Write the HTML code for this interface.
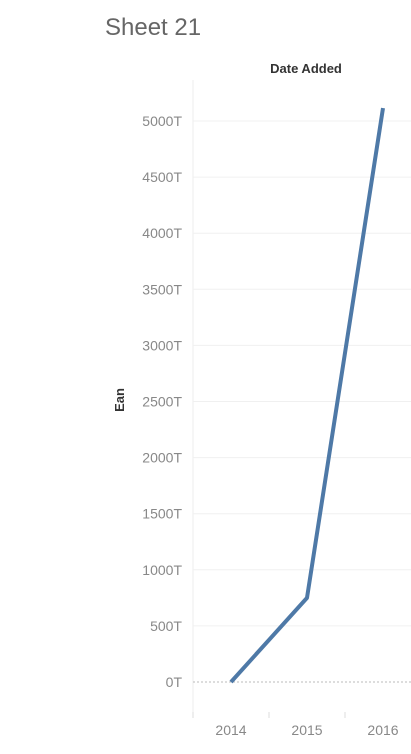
<!DOCTYPE html>
<html><head><meta charset="utf-8"><style>
html,body{margin:0;padding:0;background:#fff;width:411px;height:754px;overflow:hidden;font-family:"Liberation Sans",sans-serif}
</style></head><body>
<svg width="411" height="754" xmlns="http://www.w3.org/2000/svg">
<text x="105" y="35" font-size="24" fill="#666">Sheet 21</text>
<text x="306" y="73" font-size="13" font-weight="bold" fill="#333" text-anchor="middle">Date Added</text>
<text transform="translate(124,400) rotate(-90)" font-size="13" font-weight="bold" fill="#333" text-anchor="middle">Ean</text>
<g id="grid"></g><g id="yt"></g><g id="xt"></g><g id="ln"></g>
</svg>
<script>
const categories=["2014","2015","2016"];
const values=[0,750,5115];
const yTicks=[0,500,1000,1500,2000,2500,3000,3500,4000,4500,5000];
const yLabels=["0T","500T","1000T","1500T","2000T","2500T","3000T","3500T","4000T","4500T","5000T"];
const NS="http://www.w3.org/2000/svg";
const y=v=>682-v*(561/5000);
const x=i=>231+i*76;
function mk(t,a,p){const e=document.createElementNS(NS,t);for(const k in a)e.setAttribute(k,a[k]);p.appendChild(e);return e;}
const g=document.getElementById('grid'),yt=document.getElementById('yt'),xt=document.getElementById('xt'),ln=document.getElementById('ln');
const ax=mk('line',{x1:193,y1:80,x2:193,y2:718,stroke:'#eee'},g);


yTicks.forEach((v,i)=>{
 const l=mk('line',{x1:193,x2:411,y1:y(v),y2:y(v),stroke:v===0?'#bbb':'#f0f0f0','stroke-dasharray':v===0?'2,2':'none'},g);
 
 
 const t=mk('text',{x:182,y:y(v)+5,'font-size':14,fill:'#888','text-anchor':'end'},yt);
 t.textContent=yLabels[i];
 
 
});
categories.forEach((c,i)=>{
 const tk=mk('line',{x1:x(i)-38,x2:x(i)-38,y1:712,y2:718,stroke:'#ddd'},xt);
 
 
 const t=mk('text',{x:x(i),y:735,'font-size':14,fill:'#888','text-anchor':'middle'},xt);
 t.textContent=c;
 
 
});
const p=mk('polyline',{points:values.map((v,i)=>x(i)+','+y(v)).join(' '),fill:'none',stroke:'#4e79a7','stroke-width':4,'stroke-linejoin':'round'},ln);


</script>
</body></html>
